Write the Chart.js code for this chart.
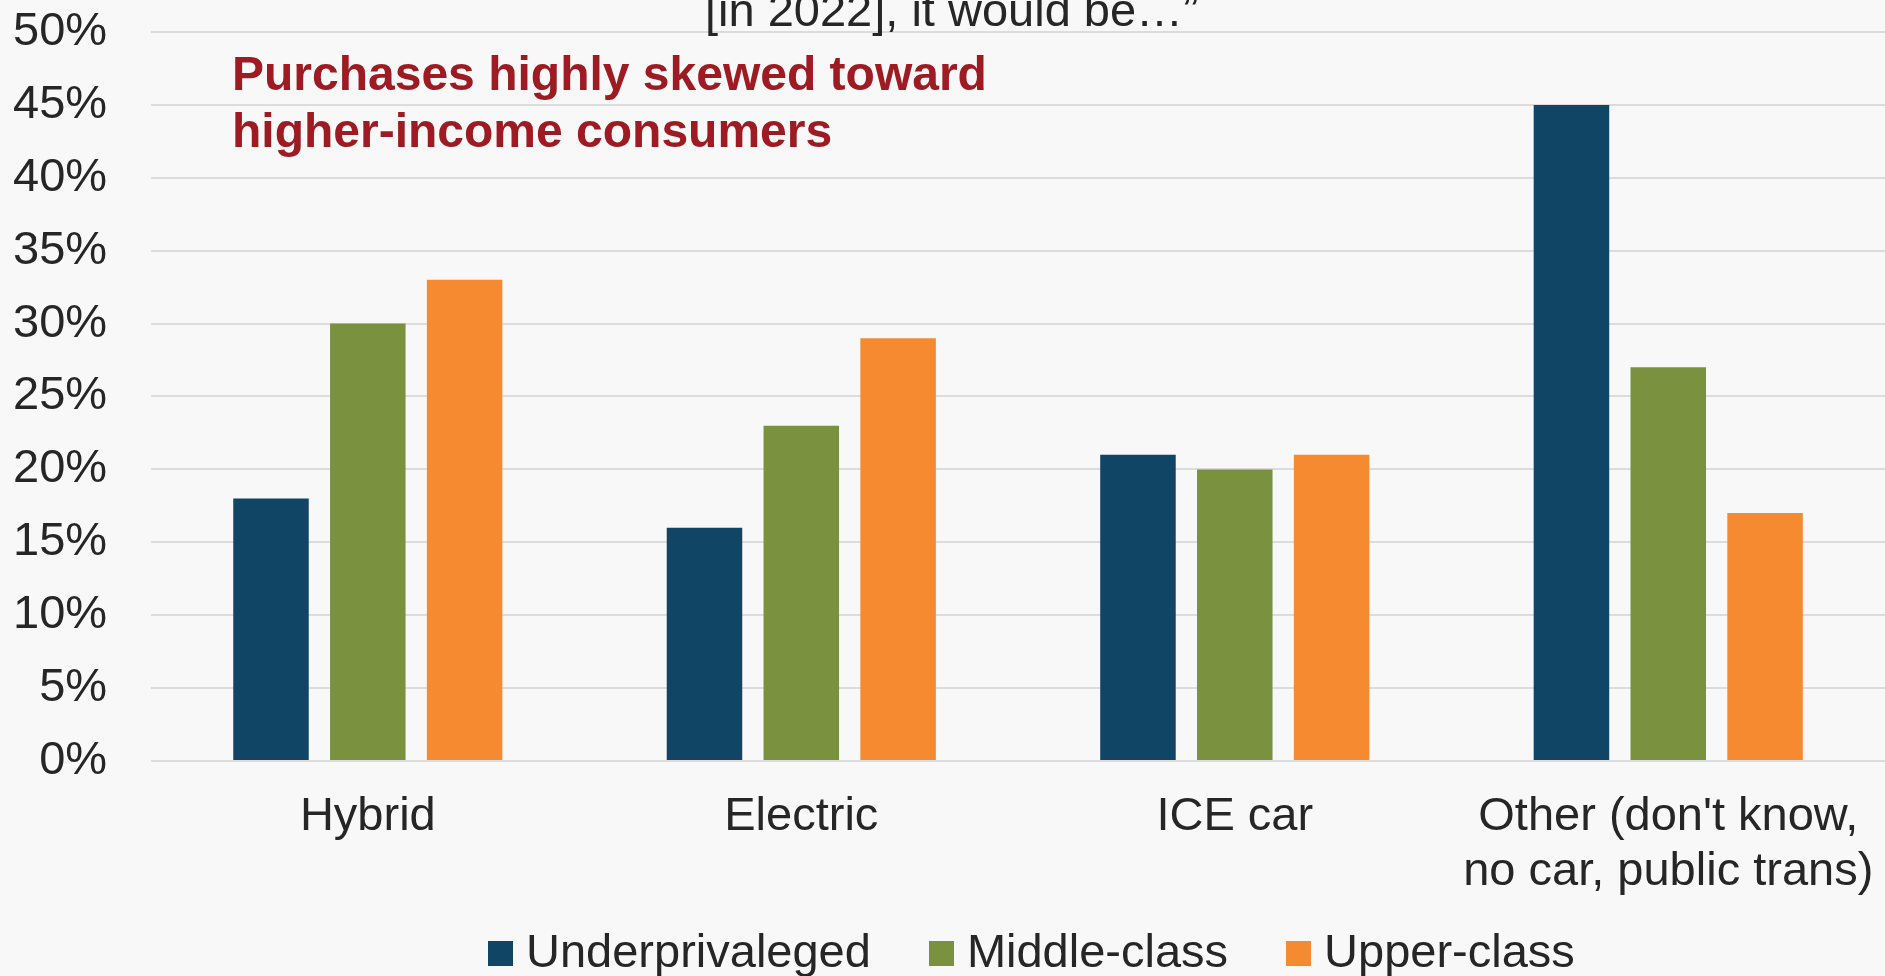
<!DOCTYPE html>
<html>
<head>
<meta charset="utf-8">
<script src="https://cdn.jsdelivr.net/npm/chart.js@4.4.1/dist/chart.umd.min.js"></script>
<style>
  html, body { margin: 0; padding: 0; background: #f8f8f8; overflow: hidden; }
  #wrap { position: relative; width: 1885px; height: 976px; }
  #chart { position: absolute; left: 0; top: 0; }
  #legend {
    position: absolute; left: 488px; top: 927px;
    display: flex; gap: 58px;
    font-family: "Liberation Sans", Arial, sans-serif; font-size: 47px; line-height: 47px; color: #262626;
  }
  #legend .item { display: flex; align-items: center; white-space: nowrap; }
  #legend .box { width: 25px; height: 25px; margin-right: 13px; position: relative; top: 3px; }
</style>
</head>
<body>
<div id="wrap">
  <canvas id="chart" width="1885" height="976"></canvas>
  <div id="legend"></div>
</div>
<script>
  const categorias = ["Hybrid", "Electric", "ICE car", ["Other (don't know,", "no car, public trans)"]];
  const underprivaleged = [18, 16, 21, 45];
  const middleClass = [30, 23, 20, 27];
  const upperClass = [33, 29, 21, 17];
  const series = ["Underprivaleged", "Middle-class", "Upper-class"];
  const cores = ["#104565", "#7a9140", "#f58a31"];

  const FONTE = '"Liberation Sans", Arial, sans-serif';
  const TEXTO = "#262626";

  // titulo cortado no topo e a nota em vermelho
  const textos = {
    id: "textos",
    afterDraw(chart) {
      const ctx = chart.ctx;
      ctx.save();
      ctx.textBaseline = "alphabetic";
      ctx.textAlign = "left";
      ctx.fillStyle = TEXTO;
      ctx.font = "47px " + FONTE;
      ctx.fillText("[in 2022], it would be\u2026\u201d", 705, 26);
      ctx.fillStyle = "#9e1b24";
      ctx.font = "bold 48px " + FONTE;
      ctx.fillText("Purchases highly skewed toward", 232, 90);
      ctx.fillText("higher-income consumers", 232, 147);
      ctx.restore();
    }
  };

  const dados = [underprivaleged, middleClass, upperClass];

  new Chart(document.getElementById("chart"), {
    type: "bar",
    data: {
      labels: categorias,
      datasets: series.map(function(nome, i) {
        return {
          label: nome,
          data: dados[i],
          backgroundColor: cores[i],
          categoryPercentage: 0.67,
          barPercentage: 0.78
        };
      })
    },
    options: {
      responsive: false,
      animation: false,
      layout: { padding: { left: 13, right: 0, top: 32, bottom: 77 } },
      plugins: {
        legend: { display: false },
        tooltip: { enabled: false }
      },
      scales: {
        x: {
          // tickLength transparente no lugar do padding (padding empurra a area do grafico)
          grid: { color: "transparent", drawTicks: true, tickLength: 29, tickColor: "transparent" },
          border: { display: false },
          ticks: {
            color: TEXTO,
            font: { family: FONTE, size: 47, lineHeight: 1.16 },
            padding: 0,
            maxRotation: 0,
            autoSkip: false
          }
        },
        y: {
          min: 0,
          max: 50,
          border: { display: false },
          grid: { color: "#dcdcdc", lineWidth: 2, drawTicks: true, tickLength: 44, tickColor: "transparent" },
          ticks: {
            stepSize: 5,
            color: TEXTO,
            font: { family: FONTE, size: 47 },
            padding: 0,
            callback: function(v) { return v + "%"; }
          }
        }
      }
    },
    plugins: [textos]
  });

  // legenda em html
  const leg = document.getElementById("legend");
  series.forEach(function(nome, i) {
    const item = document.createElement("div");
    item.className = "item";
    item.innerHTML = '<span class="box" style="background:' + cores[i] + '"></span>' + nome;
    leg.appendChild(item);
  });
</script>
</body>
</html>
